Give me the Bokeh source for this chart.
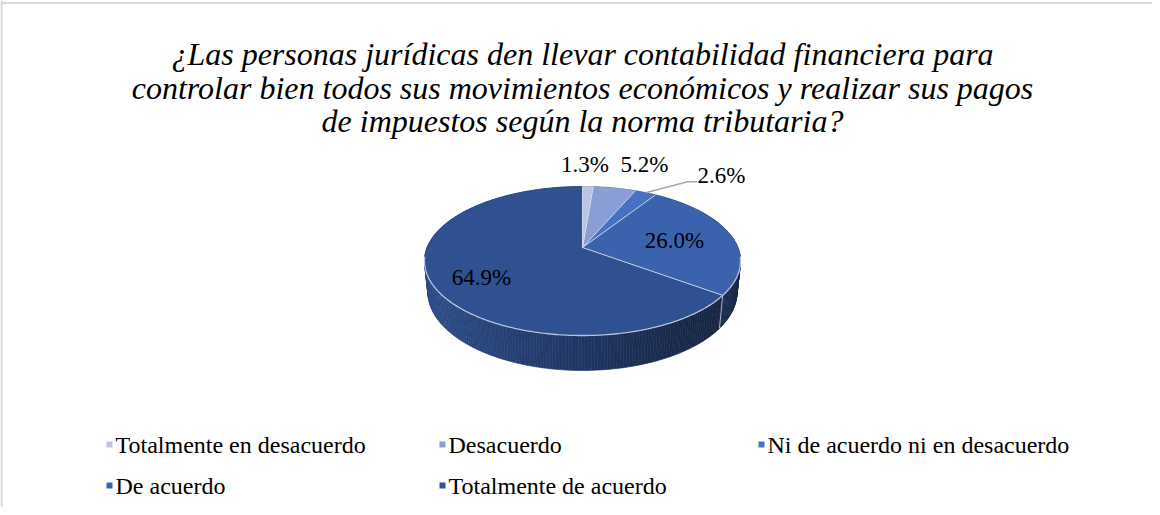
import numpy as np
from bokeh.plotting import figure
from bokeh.models import Range1d, Span
from bokeh.core.properties import value
from bokeh.embed import file_html
from bokeh.resources import INLINE

# ---------------- data ----------------
title_lines = [
    "¿Las personas jurídicas den llevar contabilidad financiera para",
    "controlar bien todos sus movimientos económicos y realizar sus pagos",
    "de impuestos según la norma tributaria?",
]
categories = [
    "Totalmente en desacuerdo",
    "Desacuerdo",
    "Ni de acuerdo ni en desacuerdo",
    "De acuerdo",
    "Totalmente de acuerdo",
]
percentages = [1.3, 5.2, 2.6, 26.0, 64.9]
colors = ["#bac5e3", "#8a9dd4", "#4672c4", "#3b63ad", "#2f5192"]

# ---------------- layout / style ----------------
W, H = 1152, 507
CX, CY = 590.0, 255.0          # pie apex (page px)
R = 155.4                      # disc radius
SIN_E = 0.4637                 # elevation
COS_E = float(np.sqrt(1 - SIN_E ** 2))
DIST = 759.5                   # perspective distance
DEPTH = 35.3                   # pie thickness
FONT = value("Liberation Serif")

# label placement: (radial fraction, dx, dy)
label_style = [(1.0, -3, -22), (1.0, 30, -24), (1.0, 76, -17), (0.6, 2, 1), (0.7, 2, 6)]
leader = [False, False, True, False, False]
LEG_X = [117, 450, 769]
LEG_Y = [452, 493]


def proj(phi, f=1.0, yh=0.0):
    x3 = f * R * np.sin(phi)
    z3 = -f * R * np.cos(phi)
    yv = -z3 * SIN_E + yh * COS_E
    d = z3 * COS_E + yh * SIN_E
    sc = DIST / (DIST - d)
    return CX + x3 * sc, CY - yv * sc


def hex2rgb(h):
    h = h.lstrip("#")
    return np.array([int(h[i:i + 2], 16) for i in (0, 2, 4)], dtype=float)


def rgb2hex(c):
    c = np.clip(np.round(c), 0, 255).astype(int)
    return "#%02x%02x%02x" % tuple(c)


p = figure(width=W, height=H, output_backend="svg", toolbar_location=None,
           x_range=Range1d(8, 8 + W), y_range=Range1d(8 + H, 8),
           x_axis_location=None, y_axis_location=None,
           min_border=0, outline_line_color=None, background_fill_color="white",
           border_fill_color="white")
p.grid.visible = False

# chart area border (top and left visible)
p.add_layout(Span(location=10.5, dimension="width", line_color="#d9d9d9", line_width=2))
p.add_layout(Span(location=9, dimension="height", line_color="#d9d9d9", line_width=2))

# ---------------- title ----------------
p.text(x=[590] * len(title_lines), y=[61, 95, 128],
       text=title_lines, text_font=FONT, text_font_style="italic",
       text_font_size="32px", text_align="center", text_baseline="alphabetic",
       text_color="#000000")

# ---------------- pie geometry ----------------
vals = np.array(percentages, dtype=float)
bounds = np.concatenate([[0.0], np.cumsum(vals) / vals.sum() * 2 * np.pi])

# side walls (many small quads, back to front)
quads = []
for i in range(len(vals)):
    a0, a1 = bounds[i], bounds[i + 1]
    n = max(2, int(np.ceil((a1 - a0) / np.radians(1.0))))
    ph = np.linspace(a0, a1, n + 1)
    base = hex2rgb(colors[i])
    for j in range(n):
        t0x, t0y = proj(ph[j]); t1x, t1y = proj(ph[j + 1])
        b1x, b1y = proj(ph[j + 1], yh=-DEPTH); b0x, b0y = proj(ph[j], yh=-DEPTH)
        xm = (t0x + t1x) / 2
        s = np.clip((xm - (CX - R)) / (2 * R), 0, 1)
        shade = 0.93 - 0.52 * s
        c = rgb2hex(base * shade)
        quads.append((np.cos((ph[j] + ph[j + 1]) / 2), [t0x, t1x, b1x, b0x], [t0y, t1y, b1y, b0y], c))
quads.sort(key=lambda q: -q[0])
p.patches(xs=[q[1] for q in quads], ys=[q[2] for q in quads],
          fill_color=[q[3] for q in quads], line_color=[q[3] for q in quads], line_width=0.6)

# top faces
wx, wy = [], []
for i in range(len(vals)):
    ph = np.linspace(bounds[i], bounds[i + 1], max(3, int(np.degrees(bounds[i + 1] - bounds[i])) + 2))
    ex, ey = proj(ph)
    wx.append(np.concatenate([[CX], ex]))
    wy.append(np.concatenate([[CY], ey]))
p.patches(xs=wx, ys=wy, fill_color=colors, line_color=colors, line_width=0.5)

# slice separators on top
sx0, sy0, sx1, sy1 = [], [], [], []
for b in bounds[:-1]:
    ex, ey = proj(b)
    sx0.append(CX); sy0.append(CY); sx1.append(ex); sy1.append(ey)
p.segment(x0=sx0, y0=sy0, x1=sx1, y1=sy1, line_color="#e4e9f4", line_width=1, line_alpha=0.85)

# front rim highlight
ph = np.linspace(np.radians(97), np.radians(263), 200)
rx, ry = proj(ph)
p.line(x=rx, y=ry, line_color="#c9d1e4", line_width=1.3, line_alpha=0.9)

# visible side boundaries
vb = [b for b in bounds[:-1] if np.radians(100) < b < np.radians(260)]
if vb:
    tx, ty = proj(np.array(vb)); bx, by = proj(np.array(vb), yh=-DEPTH)
    p.segment(x0=tx, y0=ty, x1=bx, y1=by, line_color="#aab3c8", line_width=1)

# ---------------- data labels ----------------
lx, ly, lt = [], [], []
for i, v in enumerate(vals):
    mid = (bounds[i] + bounds[i + 1]) / 2
    f, dx, dy = label_style[i]
    ax, ay = proj(mid, f=f)
    lx.append(ax + dx); ly.append(ay + dy); lt.append(f"{v:.1f}%")
    if leader[i]:
        x_end = ax + dx - 24
        p.line(x=[ax, x_end - 10, x_end], y=[ay, ay + dy + 6, ay + dy + 6],
               line_color="#a6a6a6", line_width=1.5)
p.text(x=lx, y=ly, text=lt, text_font=FONT, text_font_size="23px",
       text_align="center", text_baseline="middle", text_color="#000000")

# ---------------- legend ----------------
mx, my, tx_, ty_ = [], [], [], []
for i, cat in enumerate(categories):
    col, row = i % 3, i // 3
    mx.append(LEG_X[col]); my.append(LEG_Y[row])
    tx_.append(LEG_X[col] + 6); ty_.append(LEG_Y[row])
p.scatter(x=mx, y=my, marker="square", size=6, fill_color=colors, line_color=None)
p.text(x=tx_, y=ty_, text=categories, text_font=FONT, text_font_size="24px",
       text_align="left", text_baseline="middle", text_color="#000000")

open("out.html", "w").write(file_html(p, INLINE))
